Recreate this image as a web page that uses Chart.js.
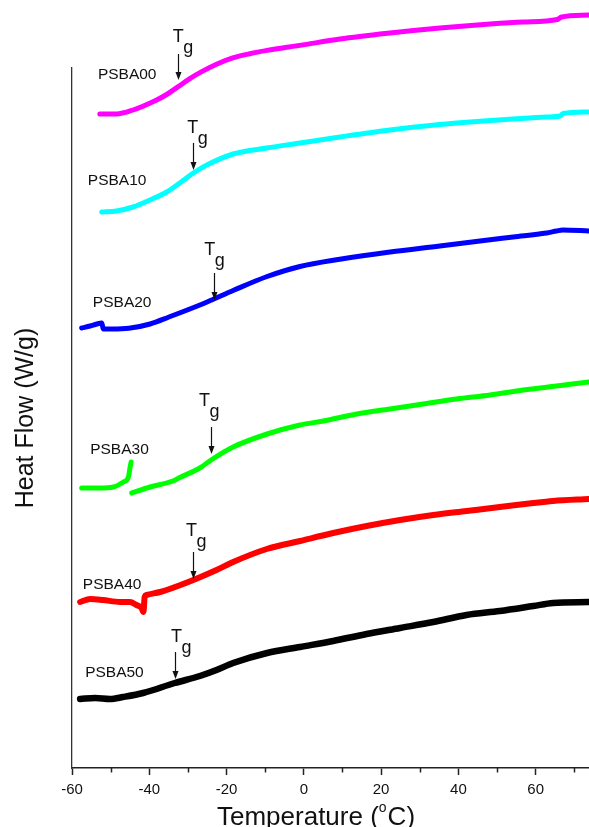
<!DOCTYPE html>
<html>
<head>
<meta charset="utf-8">
<script src="https://cdn.jsdelivr.net/npm/chart.js@4/dist/chart.umd.min.js"></script>
<style>
  html, body { margin: 0; padding: 0; background: #ffffff; }
  canvas { display: block; }
</style>
</head>
<body>
<canvas id="dsc" width="589" height="827"></canvas>
<script>
const FONT = '"Liberation Sans", Arial, Helvetica, sans-serif';

// Temperature axis (°C)
const xMin = -60;
const xMax = 73.8;
const tickStep = 10;
const labelStep = 20;

// Heat-flow axis (curves are offset vertically, arbitrary units)
const yMin = 0;
const yMax = 70;

const seriesNames  = ['PSBA00', 'PSBA10', 'PSBA20', 'PSBA30', 'PSBA40', 'PSBA50'];
const seriesColors = ['#ff00ff', '#00ffff', '#0000ff', '#00ff00', '#ff0000', '#000000'];
const seriesWidths = [5, 5, 5, 5, 6, 6.5];

// DSC traces: temperature (°C) and offset heat flow
const psba00Temp = [-52.8, -48.5, -44.2, -38.1, -35.5, -32.5, -29.5, -26.9, -22.6, -18.4, -14.0, -9.5, -1.0, 9.3, 22.3, 35.2, 48.2, 56.8, 65.6, 66.7, 73.8];
const psba00Heat = [65.4, 65.4, 65.8, 66.8, 67.35, 68.14, 68.94, 69.54, 70.38, 71.01, 71.43, 71.76, 72.26, 72.9, 73.5, 74.0, 74.4, 74.6, 74.85, 75.1, 75.3];

const psba10Temp = [-52.3, -48.5, -44.2, -39.8, -35.5, -32.1, -28.6, -25.1, -18.3, -9.6, -1.0, 9.3, 22.3, 35.2, 45.6, 54.2, 62.8, 66.3, 67.1, 73.8];
const psba10Heat = [55.6, 55.7, 56.1, 56.8, 57.6, 58.5, 59.5, 60.3, 61.4, 62.0, 62.5, 63.1, 63.8, 64.35, 64.67, 64.9, 65.1, 65.2, 65.45, 65.6];

const psba20Temp = [-57.5, -55.3, -53.6, -52.3, -51.9, -49.7, -45.3, -39.8, -34.9, -26.9, -23.3, -18.3, -9.5, -1.0, 9.3, 22.3, 35.2, 45.6, 54.2, 62.8, 65.4, 67.0, 73.8];
const psba20Heat = [44.0, 44.2, 44.4, 44.5, 43.9, 43.9, 43.97, 44.4, 45.1, 46.3, 46.9, 47.75, 49.15, 50.15, 50.87, 51.6, 52.2, 52.7, 53.1, 53.5, 53.7, 53.8, 53.7];

// null splits the trace where the baseline jumps
const psba30Temp = [-57.5, -52.8, -49.3, -46.7, -45.4, -45.0, -44.7, -44.6, -44.55, -39.8, -33.9, -32.1, -26.9, -24.0, -18.3, -9.5, -1.0, 5.0, 13.7, 22.3, 30.9, 39.5, 48.2, 56.8, 65.4, 73.8];
const psba30Heat = [28.0, 28.0, 28.1, 28.6, 29.1, 30.0, 30.6, null, 27.5, 28.1, 28.7, 29.05, 30.0, 30.8, 32.1, 33.4, 34.3, 34.7, 35.4, 35.9, 36.4, 36.9, 37.3, 37.8, 38.2, 38.6];

const psba40Temp = [-57.9, -55.3, -52.0, -47.6, -45.0, -43.3, -42.0, -41.5, -41.2, -40.7, -37.2, -35.5, -28.6, -22.6, -18.3, -9.6, -1.0, 7.6, 16.25, 24.9, 33.5, 42.1, 50.7, 59.4, 64.5, 73.8];
const psba40Heat = [16.6, 16.9, 16.8, 16.6, 16.6, 16.3, 16.0, 15.6, 17.1, 17.3, 17.6, 17.8, 18.8, 19.8, 20.6, 21.9, 22.7, 23.5, 24.2, 24.8, 25.3, 25.7, 26.1, 26.5, 26.7, 26.9];

const psba50Temp = [-57.9, -54.0, -50.2, -46.8, -41.6, -33.4, -26.9, -22.6, -18.3, -9.5, -1.0, 7.6, 16.25, 24.9, 33.5, 42.1, 50.7, 59.4, 64.5, 73.8];
const psba50Heat = [6.9, 7.0, 6.9, 7.1, 7.5, 8.5, 9.2, 9.8, 10.5, 11.5, 12.1, 12.7, 13.4, 14.0, 14.6, 15.3, 15.7, 16.2, 16.5, 16.6];

// Glass transition markers: arrow position and the "Tg" caption
const tgTemp     = [-32.6, -28.7, -23.3, -24.0, -28.7, -33.4];
const tgArrowTop = [71.4, 62.5, 49.5, 34.1, 21.6, 11.6];
const tgArrowTip = [68.8, 59.8, 46.8, 31.4, 18.9, 8.9];
const tgTextTemp = [-33.9, -30.2, -25.8, -27.1, -30.5, -34.4];
const tgTextBase = [72.6, 63.5, 51.3, 36.2, 23.2, 12.6];

// Sample name captions (left edge, baseline)
const nameTemp = [-53.3, -55.9, -54.6, -55.3, -57.2, -56.6];
const nameBase = [68.9, 58.3, 46.1, 31.4, 17.9, 9.1];

const temps = [psba00Temp, psba10Temp, psba20Temp, psba30Temp, psba40Temp, psba50Temp];
const heats = [psba00Heat, psba10Heat, psba20Heat, psba30Heat, psba40Heat, psba50Heat];

const datasets = seriesNames.map((name, i) => ({
  label: name,
  data: temps[i].map((t, j) => ({ x: t, y: heats[i][j] })),
  borderColor: seriesColors[i],
  backgroundColor: seriesColors[i],
  borderWidth: seriesWidths[i],
  borderCapStyle: 'round',
  borderJoinStyle: 'round',
  cubicInterpolationMode: 'monotone',
  pointRadius: 0,
  spanGaps: false,
  clip: false,
  fill: false
}));

const isMajor = v => Math.abs(v % labelStep) < 1e-6;

// shorter marks for the unlabelled 10 °C ticks
const minorTicks = {
  id: 'minorTicks',
  afterDraw(chart) {
    const sx = chart.scales.x;
    const ctx = chart.ctx;
    const y0 = chart.chartArea.bottom;
    ctx.save();
    ctx.strokeStyle = '#222';
    ctx.lineWidth = 1.5;
    sx.ticks.forEach(t => {
      if (isMajor(t.value)) return;
      const px = Math.round(sx.getPixelForValue(t.value)) + 0.5;
      ctx.beginPath();
      ctx.moveTo(px, y0);
      ctx.lineTo(px, y0 + 4.5);
      ctx.stroke();
    });
    ctx.restore();
  }
};

// sample names, Tg arrows and captions
const annotations = {
  id: 'annotations',
  afterDatasetsDraw(chart) {
    const sx = chart.scales.x, sy = chart.scales.y;
    const ctx = chart.ctx;
    ctx.save();
    ctx.fillStyle = '#111';
    ctx.strokeStyle = '#111';
    ctx.textAlign = 'left';
    ctx.textBaseline = 'alphabetic';

    ctx.font = `15.5px ${FONT}`;
    seriesNames.forEach((name, i) => {
      ctx.fillText(name, sx.getPixelForValue(nameTemp[i]), sy.getPixelForValue(nameBase[i]));
    });

    tgTemp.forEach((t, i) => {
      const ax = Math.round(sx.getPixelForValue(t)) + 0.5;
      const top = sy.getPixelForValue(tgArrowTop[i]);
      const tip = sy.getPixelForValue(tgArrowTip[i]);
      ctx.lineWidth = 1.2;
      ctx.beginPath();
      ctx.moveTo(ax, top);
      ctx.lineTo(ax, tip - 6);
      ctx.stroke();
      ctx.beginPath();
      ctx.moveTo(ax, tip);
      ctx.lineTo(ax - 3, tip - 8);
      ctx.lineTo(ax + 3, tip - 8);
      ctx.closePath();
      ctx.fill();

      ctx.font = `18px ${FONT}`;
      const tx = sx.getPixelForValue(tgTextTemp[i]);
      const ty = sy.getPixelForValue(tgTextBase[i]);
      ctx.fillText('T', tx, ty);
      ctx.fillText('g', tx + 10.5, ty + 11.3);
    });
    ctx.restore();
  }
};

// axis titles (x title carries a raised "o" for degrees)
const axisTitles = {
  id: 'axisTitles',
  afterDraw(chart) {
    const ctx = chart.ctx;
    const area = chart.chartArea;
    ctx.save();
    ctx.fillStyle = '#111';

    ctx.font = `25px ${FONT}`;
    ctx.textAlign = 'center';
    ctx.textBaseline = 'alphabetic';
    ctx.translate(33, (area.top + area.bottom) / 2);
    ctx.rotate(-Math.PI / 2);
    ctx.fillText('Heat Flow (W/g)', 0, 0);
    ctx.setTransform(1, 0, 0, 1, 0, 0);

    const main = `26px ${FONT}`, sup = `14px ${FONT}`;
    const p1 = 'Temperature (', p2 = 'o', p3 = 'C)';
    ctx.font = main; const w1 = ctx.measureText(p1).width; const w3 = ctx.measureText(p3).width;
    ctx.font = sup;  const w2 = ctx.measureText(p2).width;
    const total = w1 + w2 + 1 + w3;
    const cx = area.left + 0.472 * (area.right - area.left);
    const base = area.bottom + 57;
    let x = cx - total / 2;
    ctx.textAlign = 'left';
    ctx.font = main; ctx.fillText(p1, x, base); x += w1;
    ctx.font = sup;  ctx.fillText(p2, x, base - 13); x += w2 + 1;
    ctx.font = main; ctx.fillText(p3, x, base);
    ctx.restore();
  }
};

new Chart(document.getElementById('dsc'), {
  type: 'line',
  data: { datasets },
  options: {
    responsive: false,
    animation: false,
    devicePixelRatio: 1,
    layout: { padding: { top: 68, right: 0, left: 0, bottom: 0 } },
    plugins: { legend: { display: false }, tooltip: { enabled: false } },
    scales: {
      x: {
        type: 'linear',
        min: xMin,
        max: xMax,
        afterFit: s => { s.height = 59; },
        border: { display: true, color: '#222', width: 1.5 },
        grid: {
          display: true,
          drawOnChartArea: false,
          drawTicks: true,
          tickLength: 7,
          tickWidth: 1.5,
          tickColor: c => (c.tick && isMajor(c.tick.value)) ? '#222' : 'rgba(0,0,0,0)'
        },
        ticks: {
          stepSize: tickStep,
          includeBounds: false,
          autoSkip: false,
          maxRotation: 0,
          padding: 6,
          color: '#111',
          font: { family: FONT, size: 15 },
          callback: v => isMajor(v) ? String(v) : ''
        }
      },
      y: {
        type: 'linear',
        min: yMin,
        max: yMax,
        afterFit: s => { s.width = 72; },
        border: { display: true, color: '#333', width: 1.3 },
        grid: { display: false },
        ticks: { display: false }
      }
    }
  },
  plugins: [minorTicks, annotations, axisTitles]
});
</script>
</body>
</html>
